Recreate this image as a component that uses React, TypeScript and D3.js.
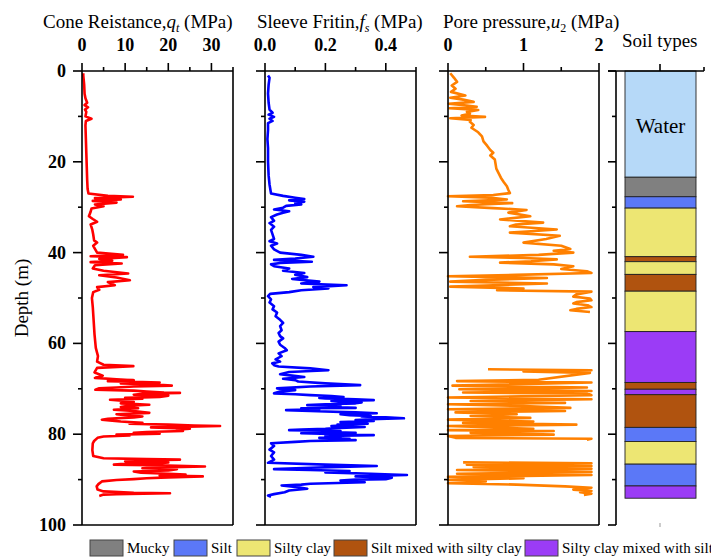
import React from 'react';
import * as d3 from 'd3';

// ---------- DATA ----------
const depthMajorTicks = [0, 20, 40, 60, 80, 100];
const depthMinorTicks = [10, 30, 50, 70, 90];

const qtMajor = [0, 10, 20, 30];
const qtMinor = [5, 15, 25, 35];
const fsMajor = [0, 0.2, 0.4];
const fsMinor = [0.1, 0.3, 0.5];
const u2Major = [0, 1, 2];
const u2Minor = [0.5, 1.5];

// [depth (m), qt (MPa)]
const qtData: [number, number][] = [
  [0.5, 0.3], [1, 0.3], [3, 0.5], [5, 0.6], [6, 0.8], [7, 1.2], [7.5, 0.6], [8, 1.4], [8.5, 0.7], [9, 1.0],
  [10, 0.8], [10.5, 2.2], [11, 0.9], [12, 0.8], [15, 0.9], [18, 1.0], [21, 1.1], [24, 1.2], [26, 1.3], [27, 1.5],
  [27.5, 6], [27.7, 11.8], [28, 3], [28.3, 9], [28.6, 2.5], [29, 8], [29.4, 3], [29.8, 5], [30.3, 2.2], [31, 2.0],
  [32, 1.6], [32.6, 2.5], [33.2, 3.5], [33.8, 2.0], [35, 2.4], [36, 2.6], [37.3, 2.8], [37.8, 3.5], [38.5, 2.6],
  [39.5, 3.2], [40, 3.5], [40.5, 9.5], [40.8, 2], [41.0, 10.4], [41.4, 4], [41.8, 7], [42.1, 2], [42.4, 9.2],
  [42.8, 3], [43.5, 2.5], [44, 5], [44.6, 10.7], [45, 4], [45.5, 8], [46.1, 11.1], [46.5, 6], [47.2, 7.6],
  [47.6, 3.5], [48.2, 4], [48.7, 2.6], [50, 2.3], [52, 2.5], [55, 2.7], [58, 2.9], [61, 3.2], [62.8, 3.7],
  [64, 3.5], [64.7, 5], [65, 11.9], [65.4, 3.5], [66.4, 2.9], [67.1, 4.8], [67.6, 3.0],
  [67.9, 8], [68.1, 12], [68.3, 6], [68.5, 14], [68.6, 18], [68.8, 9], [69.0, 16], [69.3, 20.8], [69.5, 12],
  [69.7, 8], [69.9, 4], [70.2, 3.1], [70.4, 12], [70.6, 15], [70.8, 19], [70.9, 22.7], [71.1, 14], [71.3, 12],
  [71.5, 20], [71.8, 18], [72.0, 10], [72.2, 14], [72.4, 6.5], [72.7, 10], [72.9, 12], [73.2, 9], [73.5, 15.6],
  [73.7, 11], [74, 9], [74.3, 13], [74.6, 7.4], [74.9, 12], [75.1, 14], [75.3, 15.6], [75.6, 8], [75.8, 10],
  [76.1, 14], [76.3, 12], [76.6, 6], [76.8, 4.6], [77.0, 7], [77.2, 9], [77.5, 14], [77.7, 11], [77.9, 20],
  [78.1, 26], [78.2, 32], [78.4, 22], [78.5, 16], [78.8, 25], [79.0, 22], [79.3, 23.4], [79.5, 15], [79.7, 12],
  [79.9, 18], [80.1, 8], [80.3, 11], [80.5, 5], [80.8, 3.6], [81.5, 2.8], [82, 2.5], [83.5, 2.4], [84.8, 2.6],
  [85.3, 5], [85.5, 15], [85.6, 22.7], [85.8, 12], [86, 10], [86.2, 20], [86.4, 18], [86.6, 9], [86.7, 7.4],
  [86.9, 20], [87.1, 28.5], [87.3, 18], [87.5, 14], [87.7, 22], [88, 20], [88.2, 12], [88.5, 13.7], [88.7, 20],
  [88.9, 24], [89.1, 18], [89.3, 28], [89.5, 20], [89.7, 15], [89.9, 12], [90.1, 8], [90.4, 4.6], [91.0, 3.8],
  [91.5, 3.4], [92.2, 3.6], [92.6, 5], [92.9, 12], [93, 20.4], [93.2, 8], [93.3, 5], [93.6, 4],
];

// [depth (m), fs (MPa)]
const fsData: [number, number][] = [
  [1, 0.01], [1.5, 0.015], [3, 0.012], [5, 0.01], [7, 0.012], [8.5, 0.015], [9.2, 0.025], [9.6, 0.012], [10.1, 0.03],
  [10.5, 0.015], [11, 0.025], [11.5, 0.01], [13, 0.01], [15, 0.008], [17, 0.01], [20, 0.01], [23, 0.012], [25, 0.015],
  [27, 0.02], [27.5, 0.06], [27.9, 0.10], [28.2, 0.13], [28.5, 0.08], [28.8, 0.13], [29.1, 0.10], [29.4, 0.12],
  [29.7, 0.07], [30.1, 0.06], [30.5, 0.03], [30.9, 0.08], [31.2, 0.06], [31.6, 0.04], [32.2, 0.02], [33.0, 0.03],
  [33.5, 0.015], [34.3, 0.03], [35.0, 0.02], [36.0, 0.025], [37.0, 0.03], [37.5, 0.015], [38.0, 0.04], [38.5, 0.02],
  [39.3, 0.03], [40.0, 0.05], [40.5, 0.12], [40.9, 0.16], [41.3, 0.10], [41.6, 0.03], [42.0, 0.155], [42.3, 0.05],
  [42.6, 0.02], [43.0, 0.03], [43.5, 0.08], [44.0, 0.06], [44.5, 0.13], [44.9, 0.10], [45.4, 0.14], [45.8, 0.09],
  [46.4, 0.18], [46.8, 0.12], [47.2, 0.27], [47.6, 0.16], [47.9, 0.21], [48.3, 0.12], [48.7, 0.08], [49.1, 0.017],
  [49.6, 0.01], [50.3, 0.02], [51.0, 0.015], [51.8, 0.03], [52.5, 0.025], [53.2, 0.04], [54.0, 0.035], [54.8, 0.05],
  [55.5, 0.06], [56.2, 0.05], [57.1, 0.055], [57.7, 0.045], [58.4, 0.05], [58.9, 0.06], [59.6, 0.045], [60.3, 0.05],
  [61.0, 0.065], [61.5, 0.072], [62.2, 0.045], [62.8, 0.055], [63.5, 0.035], [64.0, 0.05], [64.4, 0.024], [64.8, 0.03],
  [65.1, 0.045], [65.5, 0.15], [65.9, 0.21], [66.3, 0.08], [66.8, 0.05], [67.1, 0.09], [67.4, 0.13], [67.8, 0.06],
  [68.1, 0.10], [68.4, 0.11], [68.8, 0.20], [69.2, 0.315], [69.5, 0.15], [69.9, 0.04], [70.3, 0.10], [70.6, 0.05],
  [71.0, 0.03], [71.2, 0.10], [71.4, 0.15], [71.6, 0.22], [71.8, 0.26], [72.0, 0.18], [72.1, 0.20], [72.3, 0.30],
  [72.5, 0.36], [72.7, 0.22], [72.9, 0.25], [73.0, 0.32], [73.2, 0.30], [73.4, 0.20], [73.6, 0.14], [73.8, 0.25],
  [74.0, 0.22], [74.2, 0.30], [74.3, 0.12], [74.5, 0.18], [74.7, 0.07], [74.9, 0.15], [75.0, 0.20], [75.2, 0.30],
  [75.4, 0.37], [75.6, 0.25], [75.8, 0.28], [76.0, 0.35], [76.1, 0.32], [76.3, 0.40], [76.5, 0.46], [76.7, 0.35],
  [76.9, 0.30], [77.1, 0.36], [77.3, 0.25], [77.5, 0.30], [77.7, 0.34], [77.9, 0.24], [78.0, 0.28], [78.2, 0.22],
  [78.4, 0.33], [78.6, 0.25], [78.8, 0.20], [79.0, 0.12], [79.1, 0.08], [79.3, 0.25], [79.5, 0.20], [79.7, 0.30],
  [79.8, 0.12], [80.0, 0.25], [80.2, 0.36], [80.4, 0.20], [80.6, 0.25], [80.8, 0.18], [81.0, 0.28], [81.2, 0.22],
  [81.3, 0.30], [81.5, 0.15], [81.7, 0.10], [82.0, 0.02], [82.6, 0.03],
  [83.4, 0.015], [84.0, 0.03], [84.8, 0.02], [85.6, 0.03], [86.3, 0.01], [86.7, 0.2], [87.0, 0.37], [87.2, 0.25],
  [87.4, 0.15], [87.7, 0.03], [87.9, 0.15], [88.1, 0.28], [88.4, 0.20], [88.7, 0.35], [88.9, 0.42], [89.0, 0.47],
  [89.2, 0.35], [89.3, 0.30], [89.6, 0.42], [89.9, 0.40], [90.0, 0.30], [90.2, 0.25], [90.4, 0.30], [90.6, 0.33],
  [90.9, 0.15], [91.1, 0.12], [91.3, 0.055], [91.6, 0.10], [92.0, 0.14], [92.4, 0.08], [92.8, 0.065],
  [93.2, 0.03], [93.5, 0.01], [93.8, 0.02],
];

// [depth (m), u2 (MPa)] ; null value = no record
const u2Data: [number, number | null][] = [
  [0.5, 0.03], [1.5, 0.08], [2.4, 0.12], [3.2, 0.05], [3.9, 0.10], [4.6, 0.04], [5.4, 0.23], [5.9, 0.03], [6.3, 0.20],
  [6.8, 0.34], [7.2, 0.01], [7.6, 0.25], [7.9, 0.38], [8.2, 0.02], [8.6, 0.40], [9.0, 0.25], [9.4, 0.29], [9.8, 0.18],
  [10.1, 0.49], [10.4, 0.03], [10.8, 0.30], [11.2, 0.29], [11.9, 0.34], [12.5, 0.31], [13.5, 0.40], [14.4, 0.45],
  [15.5, 0.47], [16.5, 0.52], [17.4, 0.56], [18.0, 0.60], [18.6, 0.56], [19.5, 0.62], [20.5, 0.63], [21.5, 0.64],
  [22.5, 0.67], [23.5, 0.70], [24.5, 0.74], [25.4, 0.78], [26.2, 0.80], [26.9, 0.82], [27.3, 0.60], [27.6, 0.0],
  [27.9, 0.55], [28.3, 0.78], [28.7, 0.2], [29.1, 0.85], [29.5, 0.30], [29.8, 0.12], [30.2, 0.60], [30.6, 1.04],
  [31.2, 0.8], [32.0, 1.09], [32.7, 0.69], [33.4, 1.26], [33.8, 0.9], [34.2, 0.82], [34.9, 1.44], [35.3, 1.1],
  [35.6, 0.82], [36.3, 1.48], [37.0, 1.3], [37.8, 1.0], [38.5, 1.5], [39.2, 1.62], [39.6, 1.4], [40.0, 1.66],
  [40.5, 1.2], [40.9, 0.29], [41.2, 1.0], [41.5, 1.44], [41.9, 1.1], [42.2, 0.69], [42.6, 1.4], [43.0, 1.66],
  [43.6, 1.5], [44.1, 1.84], [44.5, 1.9], [44.9, 0.9], [45.2, 0.0], [45.6, 1.31], [46.0, 0.5], [46.4, 0.03],
  [46.8, 1.31], [47.2, 0.6], [47.5, 0.03], [47.9, 1.0], [48.3, 0.65], [48.6, 1.9], [49.2, 1.7], [49.7, 1.66],
  [50.1, 1.88], [50.5, 1.9], [50.9, 1.7], [51.2, 1.66], [51.6, 1.85], [52.0, 1.9], [52.4, 1.7], [52.7, 1.62],
  [53.1, 1.88], [55, null],
  [65.7, 0.53], [65.9, 1.9], [66.2, 1.0], [66.5, 1.88], [68.0, 1.2], [68.3, 0.12], [68.6, 1.9], [69.3, 0.06],
  [69.7, 1.84], [70.1, 0.15], [70.5, 1.9], [70.8, 0.2], [71.1, 1.84], [71.4, 1.9], [71.9, 0.0], [72.3, 1.9],
  [72.7, 0.3], [73.1, 1.55], [73.4, 0.0], [73.8, 1.0], [74.2, 1.62], [74.5, 0.0], [74.9, 1.55], [75.2, 0.1],
  [75.6, 0.91], [76.0, 0.3], [76.4, 1.09], [76.8, 0.0], [77.2, 1.13], [77.5, 0.2], [77.9, 1.70], [78.2, 0.0],
  [78.8, 1.13], [79.1, 0.0], [79.3, 1.4], [79.7, 0.3], [80.1, 1.4], [80.4, 0.0], [80.8, 0.1], [81.0, 1.9],
  [81.2, 1.84], [83, null],
  [86.2, 0.2], [86.4, 1.9], [86.7, 0.25], [87.0, 1.9], [87.2, 0.34], [87.6, 1.9], [87.9, 0.12], [88.3, 1.9],
  [88.7, 0.12], [89.0, 1.9], [89.4, 0.0], [89.7, 1.0], [90.1, 0.0], [90.4, 0.5], [90.8, 0.0], [91.1, 0.91],
  [91.5, 1.55], [91.8, 1.9], [92.2, 1.66], [92.5, 1.9], [92.8, 1.75], [93.1, 1.9], [93.4, 1.8],
];

// soil column: [top depth, bottom depth, type]
const soilLayers: [number, number, string][] = [
  [0, 23.4, 'Water'], [23.4, 27.7, 'Mucky'], [27.7, 30.2, 'Silt'], [30.2, 40.9, 'Silty clay'],
  [40.9, 42.0, 'Silt mixed with silty clay'], [42.0, 44.8, 'Silty clay'], [44.8, 48.5, 'Silt mixed with silty clay'],
  [48.5, 57.4, 'Silty clay'], [57.4, 68.6, 'Silty clay mixed with silt'], [68.6, 70.1, 'Silt mixed with silty clay'],
  [70.1, 71.3, 'Silty clay mixed with silt'], [71.3, 78.5, 'Silt mixed with silty clay'], [78.5, 81.6, 'Silt'],
  [81.6, 86.6, 'Silty clay'], [86.6, 91.4, 'Silt'], [91.4, 94.1, 'Silty clay mixed with silt'],
];

const legendItems = ['Mucky', 'Silt', 'Silty clay', 'Silt mixed with silty clay', 'Silty clay mixed with silt'];

// ---------- STYLE ----------
const soilColor: Record<string, string> = {
  Water: '#b6d9f8',
  Mucky: '#808080',
  Silt: '#5b78f7',
  'Silty clay': '#ede673',
  'Silt mixed with silty clay': '#b0530f',
  'Silty clay mixed with silt': '#9b3cf6',
};
const legendX = [90, 174, 237, 334, 525];

const SERIF = '"Liberation Serif", "Times New Roman", serif';
const CURVE_W = 2.6;

const yScale = d3.scaleLinear().domain([0, 100]).range([71, 525]);
const x1 = d3.scaleLinear().domain([0, 35]).range([82, 233]);
const x2 = d3.scaleLinear().domain([0, 0.5]).range([265, 416]);
const x3 = d3.scaleLinear().domain([0, 2]).range([448, 599]);

function Frame({ x, labels, major, minor, fmt, showYLabels }: any) {
  const [l, r] = x.range();
  const t = yScale(0), b = yScale(100);
  return (
    <g stroke="#000" strokeWidth={1.6} fill="none">
      <line x1={l} y1={t} x2={r} y2={t} />
      <line x1={l} y1={b} x2={r} y2={b} />
      <line x1={l} y1={t} x2={l} y2={b} />
      <line x1={r} y1={t} x2={r} y2={b} />
      {major.map((v: number) => <line key={'M' + v} x1={x(v)} x2={x(v)} y1={t} y2={t - 8} />)}
      {minor.map((v: number) => <line key={'m' + v} x1={x(v)} x2={x(v)} y1={t} y2={t - 4} />)}
      {depthMajorTicks.map((d) => <line key={'dM' + d} x1={l} x2={l - 9} y1={yScale(d)} y2={yScale(d)} />)}
      {depthMinorTicks.map((d) => <line key={'dm' + d} x1={l} x2={l - 4} y1={yScale(d)} y2={yScale(d)} />)}
      {labels && major.map((v: number) => (
        <text key={'t' + v} x={x(v)} y={51} textAnchor="middle" stroke="none" fill="#000"
          fontFamily={SERIF} fontWeight="bold" fontSize={18}>{fmt(v)}</text>
      ))}
      {showYLabels && depthMajorTicks.map((d) => (
        <text key={'y' + d} x={66} y={yScale(d) + 6} textAnchor="end" stroke="none" fill="#000"
          fontFamily={SERIF} fontWeight="bold" fontSize={18}>{d}</text>
      ))}
    </g>
  );
}

export default function App() {
  const lineQt = d3.line<[number, number]>().x((d) => x1(d[1])).y((d) => yScale(d[0]));
  const lineFs = d3.line<[number, number]>().x((d) => x2(d[1])).y((d) => yScale(d[0]));
  const lineU2 = d3.line<[number, number | null]>()
    .defined((d) => d[1] !== null)
    .x((d) => x3(d[1] as number)).y((d) => yScale(d[0]));

  const colL = 625, colR = 696, axL = 616;

  return (
    <svg width={711} height={559} style={{ position: 'absolute', left: 0, top: 0, background: '#fff' }}
      fontFamily={SERIF}>
      <rect x={0} y={0} width={711} height={559} fill="#fff" />
      {/* titles */}
      <text x={43} y={28} fontSize={19}>Cone Reistance,<tspan fontStyle="italic">q</tspan>
        <tspan fontStyle="italic" fontSize={12} dy={4}>t</tspan><tspan dy={-4}> (MPa)</tspan></text>
      <text x={257} y={28} fontSize={19}>Sleeve Fritin,<tspan fontStyle="italic">f</tspan>
        <tspan fontStyle="italic" fontSize={12} dy={4}>s</tspan><tspan dy={-4}> (MPa)</tspan></text>
      <text x={443} y={28} fontSize={19}>Pore pressure,<tspan fontStyle="italic">u</tspan>
        <tspan fontSize={12} dy={4}>2</tspan><tspan dy={-4}> (MPa)</tspan></text>
      <text x={622} y={47} fontSize={19}>Soil types</text>

      <text transform={`translate(28,${(yScale(0) + yScale(100)) / 2}) rotate(-90)`} textAnchor="middle" fontSize={19}>Depth (m)</text>

      {/* curves */}
      <path d={lineQt(qtData) || ''} fill="none" stroke="#ff0000" strokeWidth={CURVE_W} strokeLinejoin="round" />
      <path d={lineFs(fsData) || ''} fill="none" stroke="#0000ff" strokeWidth={CURVE_W} strokeLinejoin="round" />
      <path d={lineU2(u2Data) || ''} fill="none" stroke="#ff8000" strokeWidth={CURVE_W} strokeLinejoin="round" />

      <Frame x={x1} labels major={qtMajor} minor={qtMinor} fmt={(v: number) => String(v)} showYLabels />
      <Frame x={x2} labels major={fsMajor} minor={fsMinor} fmt={(v: number) => v.toFixed(1)} />
      <Frame x={x3} labels major={u2Major} minor={u2Minor} fmt={(v: number) => String(v)} />

      {/* soil column */}
      {soilLayers.map(([top, bot, type], i) => (
        <rect key={i} x={colL} y={yScale(top)} width={colR - colL} height={yScale(bot) - yScale(top)}
          fill={soilColor[type]} stroke="#222" strokeWidth={0.9} />
      ))}
      <text x={(colL + colR) / 2} y={133} textAnchor="middle" fontSize={21}>Water</text>
      <g stroke="#000" strokeWidth={1.6}>
        <line x1={608} x2={704} y1={yScale(0)} y2={yScale(0)} />
        <line x1={axL} x2={axL} y1={yScale(0)} y2={yScale(100)} />
        <line x1={660} x2={660} y1={yScale(0)} y2={yScale(0) - 7} />
        <line x1={704} x2={704} y1={yScale(0)} y2={yScale(0) - 4} />
        {depthMajorTicks.map((d) => <line key={'sM' + d} x1={axL} x2={axL - 8} y1={yScale(d)} y2={yScale(d)} />)}
        {depthMinorTicks.map((d) => <line key={'sm' + d} x1={axL} x2={axL - 4} y1={yScale(d)} y2={yScale(d)} />)}
      </g>
      <line x1={660} x2={660} y1={yScale(100) - 2} y2={yScale(100) + 2} stroke="#999" strokeWidth={1} />

      {/* legend */}
      {legendItems.map((name, i) => (
        <g key={name}>
          <rect x={legendX[i]} y={540} width={33} height={16} fill={soilColor[name]} stroke="#444" strokeWidth={1} />
          <text x={legendX[i] + 37} y={553} fontSize={15}>{name}</text>
        </g>
      ))}
    </svg>
  );
}
